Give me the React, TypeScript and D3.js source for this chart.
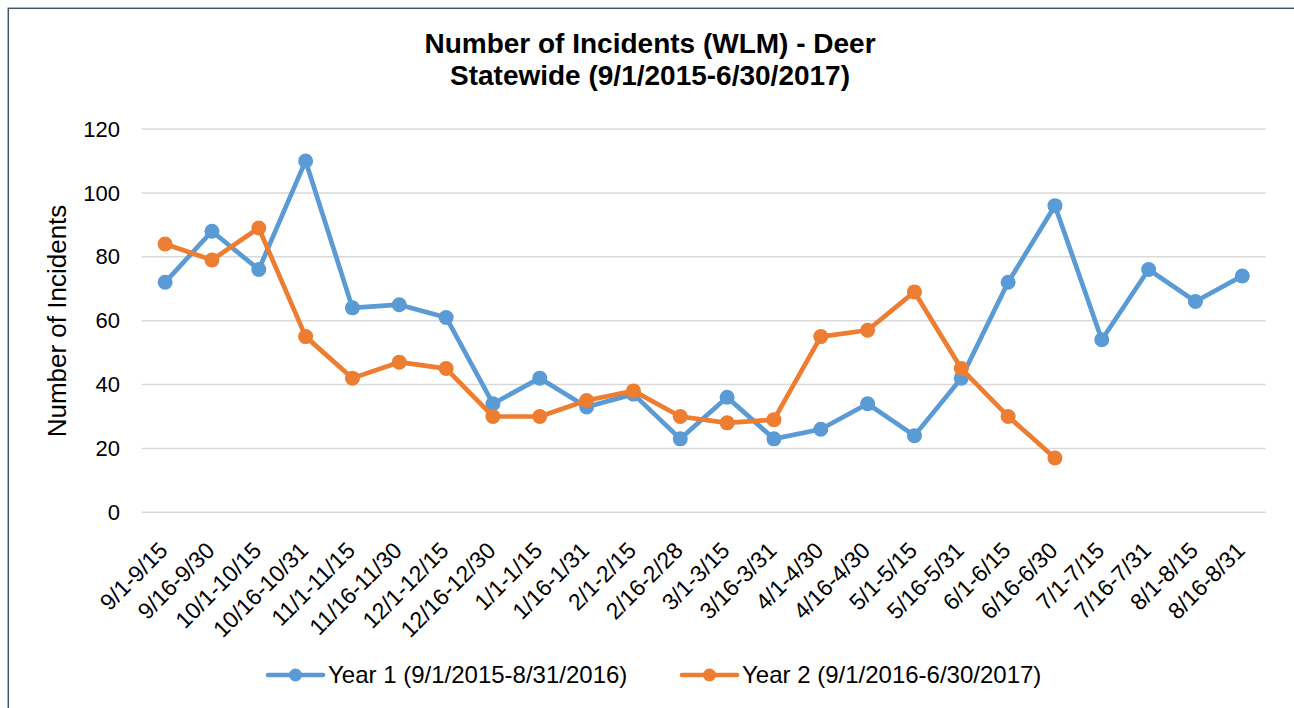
import React from "react";
import * as d3 from "d3";

const categories = [
  "9/1-9/15", "9/16-9/30", "10/1-10/15", "10/16-10/31", "11/1-11/15", "11/16-11/30",
  "12/1-12/15", "12/16-12/30", "1/1-1/15", "1/16-1/31", "2/1-2/15", "2/16-2/28",
  "3/1-3/15", "3/16-3/31", "4/1-4/30", "4/16-4/30", "5/1-5/15", "5/16-5/31",
  "6/1-6/15", "6/16-6/30", "7/1-7/15", "7/16-7/31", "8/1-8/15", "8/16-8/31",
];
const year1 = [72, 88, 76, 110, 64, 65, 61, 34, 42, 33, 37, 23, 36, 23, 26, 34, 24, 42, 72, 96, 54, 76, 66, 74];
const year2 = [84, 79, 89, 55, 42, 47, 45, 30, 30, 35, 38, 30, 28, 29, 55, 57, 69, 45, 30, 17];
const yTicks = [0, 20, 40, 60, 80, 100, 120];
const seriesNames = ["Year 1 (9/1/2015-8/31/2016)", "Year 2 (9/1/2016-6/30/2017)"];
const titleLines = ["Number of Incidents (WLM) - Deer", "Statewide (9/1/2015-6/30/2017)"];
const yAxisTitle = "Number of Incidents";

const W = 1294;
const H = 708;
const FONT = "'Liberation Sans', Arial, sans-serif";
const BLUE = "#5b9bd5";
const ORANGE = "#ed7d31";

export default function App() {
  const x = d3.scaleBand<string>().domain(categories).range([141.7, 1265.7]);
  const y = d3.scaleLinear().domain([0, 120]).range([512.3, 129]);
  const cx = (i: number) => (x(categories[i]) as number) + x.bandwidth() / 2;
  const line = d3
    .line<number>()
    .x((_, i) => cx(i))
    .y((d) => y(d));

  const series = [
    { name: seriesNames[0], data: year1, color: BLUE },
    { name: seriesNames[1], data: year2, color: ORANGE },
  ];
  const legendX = [268, 682];

  return (
    <div style={{ position: "absolute", left: 0, top: 0 }}>
      <svg width={W} height={H} style={{ display: "block", fontFamily: FONT }}>
        <rect x={0} y={0} width={W} height={H} fill="#fff" />
        <rect x={8.3} y={8.3} width={W + 20} height={H + 20} fill="none" stroke="#44546a" strokeWidth={1.5} />
        {titleLines.map((t, i) => (
          <text key={t} x={650} y={53 + i * 32} textAnchor="middle" fontSize={28} fontWeight="bold" fill="#000">
            {t}
          </text>
        ))}
        {yTicks.map((t) => (
          <g key={t}>
            <line x1={141.7} x2={1265.7} y1={y(t)} y2={y(t)} stroke="#d9d9d9" strokeWidth={1.5} />
            <text x={120} y={y(t)} dy="0.35em" textAnchor="end" fontSize={22} fill="#000">
              {t}
            </text>
          </g>
        ))}
        <text
          transform={`translate(66,321) rotate(-90)`}
          textAnchor="middle"
          fontSize={26}
          fill="#000"
        >
          {yAxisTitle}
        </text>
        {categories.map((c, i) => (
          <text
            key={c}
            transform={`translate(${cx(i) + 4},552) rotate(-45)`}
            textAnchor="end"
            fontSize={23}
            fill="#000"
          >
            {c}
          </text>
        ))}
        {series.map((s) => (
          <g key={s.name}>
            <path d={line(s.data) || ""} fill="none" stroke={s.color} strokeWidth={4.7} strokeLinejoin="round" strokeLinecap="round" />
            {s.data.map((v, i) => (
              <circle key={i} cx={cx(i)} cy={y(v)} r={7.5} fill={s.color} />
            ))}
          </g>
        ))}
        {series.map((s, i) => (
          <g key={s.name} transform={`translate(${legendX[i]},675)`}>
            <line x1={0} x2={55} y1={0} y2={0} stroke={s.color} strokeWidth={4.7} strokeLinecap="round" />
            <circle cx={27.5} cy={0} r={6.5} fill={s.color} />
            <text x={60} y={0} dy="0.35em" fontSize={24} fill="#000">
              {s.name}
            </text>
          </g>
        ))}
      </svg>
    </div>
  );
}
